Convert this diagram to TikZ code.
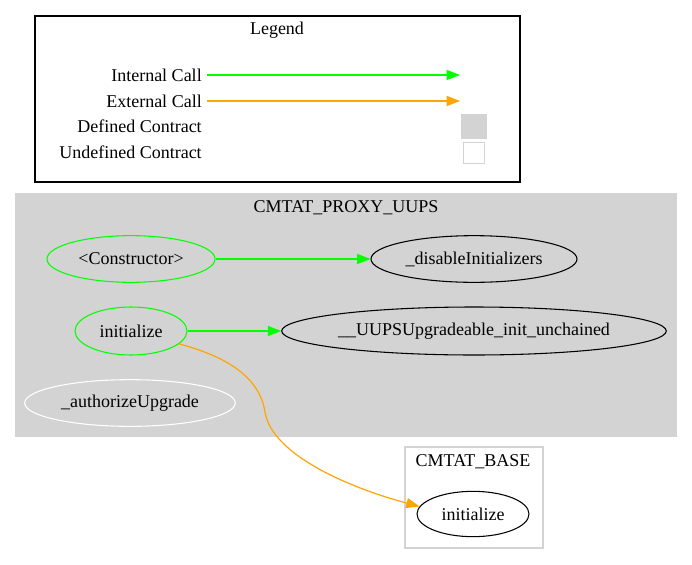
\documentclass[tikz,border=0pt]{standalone}
\usepackage{fontspec}
\setmainfont{Liberation Serif}
\usetikzlibrary{shapes.geometric,arrows.meta}
\definecolor{gvgreen}{HTML}{00FF00}
\definecolor{gvorange}{HTML}{FFA500}
\definecolor{gvgray}{HTML}{D3D3D3}
\tikzset{
  lbl/.style={font=\fontsize{13.5}{15}\selectfont, inner sep=0pt},
  fn/.style={ellipse, draw=black, line width=0.8pt, inner sep=0pt, font=\fontsize{13.5}{15}\selectfont},
  greenfn/.style={fn, draw=gvgreen},
  whitefn/.style={fn, draw=white},
  intcall/.style={draw=gvgreen, line width=0.9pt, -{Triangle[length=10pt,width=7.5pt]}},
  extcall/.style={draw=gvorange, line width=0.9pt, -{Triangle[length=10pt,width=7.5pt]}},
}
\begin{document}
\begin{tikzpicture}[x=0.75pt,y=-0.75pt]
\useasboundingbox (0,0) rectangle (692,564);
\fill[white] (0,0) rectangle (692,564);
% Legend
\draw[black, line width=0.8pt] (35,16) rectangle (520,182);
\node[lbl] (legendtitle) at (277,30) {Legend};
\node[lbl, anchor=east] (intl) at (202,75) {Internal Call};
\node[lbl, anchor=east] (extl) at (202,101) {External Call};
\node[lbl, anchor=east] (defl) at (202,126) {Defined Contract};
\node[lbl, anchor=east] (undl) at (202,152) {Undefined Contract};
\coordinate (intend) at (460,75);
\coordinate (extend) at (460,101);
\draw[intcall] ([xshift=3.75pt]intl.east) -- (intend);
\draw[extcall] ([xshift=3.75pt]extl.east) -- (extend);
\node[fill=gvgray, minimum width=19.5pt, minimum height=19pt, inner sep=0pt] (defbox) at (474,126.5) {};
\node[draw=gvgray, line width=0.8pt, fill=white, minimum width=16pt, minimum height=16pt, inner sep=0pt] (undbox) at (474,153) {};
% Cluster CMTAT_PROXY_UUPS
\fill[gvgray] (15,193) rectangle (677,437);
\node[lbl] (proxytitle) at (346,208) {CMTAT\_PROXY\_UUPS};
\node[greenfn, minimum width=126pt, minimum height=35pt] (ctor) at (131,259) {<Constructor>};
\node[fn, minimum width=154.5pt, minimum height=35pt] (disable) at (474,259) {\_disableInitializers};
\node[greenfn, minimum width=84pt, minimum height=36pt] (init) at (131,331) {initialize};
\node[fn, minimum width=287pt, minimum height=36pt] (uups) at (474,331) {\_\_UUPSUpgradeable\_init\_unchained};
\node[whitefn, minimum width=158pt, minimum height=35pt] (authz) at (130,403) {\_authorizeUpgrade};
% Cluster CMTAT_BASE
\draw[gvgray, line width=0.8pt] (405,447) rectangle (543,548);
\node[lbl] (basetitle) at (473,462) {CMTAT\_BASE};
\node[fn, minimum width=84pt, minimum height=34pt] (baseinit) at (473,514) {initialize};
% Edges
\draw[intcall] (ctor) -- (disable);
\draw[intcall] (init) -- (uups);
\draw[extcall] (init.-15) .. controls (232,358) and (260,380) .. (265,412)
  .. controls (272,455) and (350,488) .. (baseinit.172);
\end{tikzpicture}
\end{document}
